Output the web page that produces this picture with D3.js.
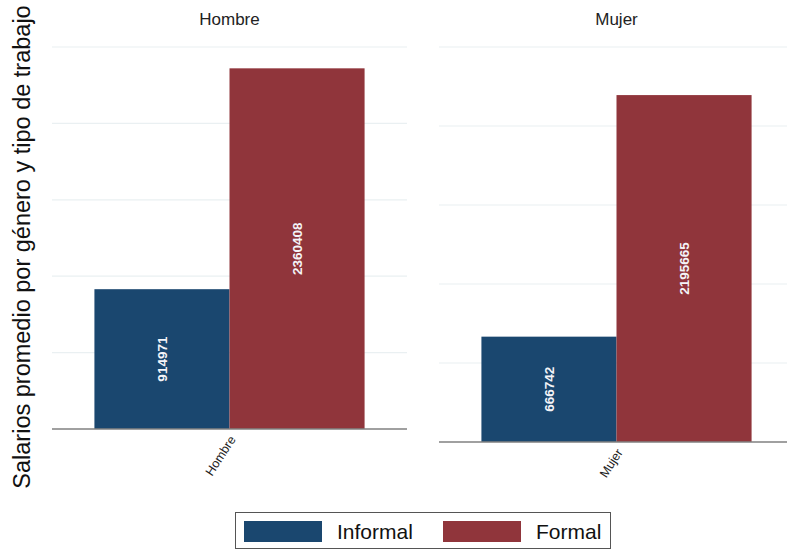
<!DOCTYPE html>
<html>
<head>
<meta charset="utf-8">
<script src="https://cdn.jsdelivr.net/npm/d3@7"></script>
<style>
  body { margin: 0; background: #fff; }
  text { font-family: "Liberation Sans", Arial, sans-serif; }
</style>
</head>
<body>
<svg id="chart" width="787" height="550"></svg>
<script>
// data
const genders = ["Hombre", "Mujer"];
const series = ["Informal", "Formal"];
const informal = [914971, 666742];
const formal = [2360408, 2195665];
const yTicks = [0, 500000, 1000000, 1500000, 2000000, 2500000];

const colors = { Informal: "#1a476f", Formal: "#90353b" };

const svg = d3.select("#chart");

// panel layout (the Mujer panel is taller because its tick label is shorter)
const panels = [
  { x0: 52, x1: 407, top: 47, bottom: 429 },
  { x0: 439, x1: 794, top: 47, bottom: 442 }
];

genders.forEach((g, i) => {
  const p = panels[i];
  const vals = { Informal: informal[i], Formal: formal[i] };

  const y = d3.scaleLinear()
      .domain([0, d3.max(yTicks)])
      .range([p.bottom, p.top]);

  const xOuter = d3.scaleBand()
      .domain([g])
      .range([p.x0, p.x1])
      .paddingInner(0)
      .paddingOuter(0.157);

  const x = d3.scaleBand()
      .domain(series)
      .range([xOuter(g), xOuter(g) + xOuter.bandwidth()]);

  const panel = svg.append("g");

  // gridlines
  panel.selectAll(".grid")
      .data(yTicks.filter(t => t > 0))
      .join("line")
      .attr("x1", p.x0)
      .attr("x2", p.x1)
      .attr("y1", d => y(d))
      .attr("y2", d => y(d))
      .attr("stroke", "#eaf0f2")
      .attr("stroke-width", 1.2);

  // bars
  panel.selectAll(".bar")
      .data(series)
      .join("rect")
      .attr("x", d => x(d))
      .attr("y", d => y(vals[d]))
      .attr("width", x.bandwidth())
      .attr("height", d => y(0) - y(vals[d]))
      .attr("fill", d => colors[d]);

  // value labels
  panel.selectAll(".lbl")
      .data(series)
      .join("text")
      .attr("transform", d => {
        const cx = x(d) + x.bandwidth() / 2;
        const cy = (y(0) + y(vals[d])) / 2;
        return `translate(${cx},${cy}) rotate(-90)`;
      })
      .attr("text-anchor", "middle")
      .attr("dy", "0.35em")
      .attr("fill", "#f4f4f8")
      .attr("font-size", 13.5)
      .attr("font-weight", "bold")
      .text(d => vals[d]);

  // baseline
  panel.append("line")
      .attr("x1", p.x0)
      .attr("x2", p.x1)
      .attr("y1", y(0))
      .attr("y2", y(0))
      .attr("stroke", "#808080")
      .attr("stroke-width", 1.5);

  // x tick label
  const cx = xOuter(g) + xOuter.bandwidth() / 2;
  panel.append("text")
      .attr("transform", `translate(${cx + 3},${y(0) + 8}) rotate(-57)`)
      .attr("text-anchor", "end")
      .attr("dy", "0.35em")
      .attr("fill", "#222")
      .attr("font-size", 12.5)
      .text(g);

  // panel title
  panel.append("text")
      .attr("x", (p.x0 + p.x1) / 2)
      .attr("y", 25)
      .attr("text-anchor", "middle")
      .attr("fill", "#222")
      .attr("font-size", 17)
      .text(g);
});

// y axis title
svg.append("text")
    .attr("transform", "translate(30,247) rotate(-90)")
    .attr("text-anchor", "middle")
    .attr("fill", "#111")
    .attr("font-size", 23.5)
    .text("Salarios promedio por género y tipo de trabajo");

// legend
const legend = svg.append("g");
legend.append("rect")
    .attr("x", 235.5)
    .attr("y", 512.5)
    .attr("width", 375)
    .attr("height", 36)
    .attr("fill", "#fff")
    .attr("stroke", "#555")
    .attr("stroke-width", 1);

const legX = d3.scaleOrdinal().domain(series).range([244, 443]);
const item = legend.selectAll(".item")
    .data(series)
    .join("g")
    .attr("transform", d => `translate(${legX(d)},521)`);
item.append("rect")
    .attr("width", 78)
    .attr("height", 21)
    .attr("fill", d => colors[d]);
item.append("text")
    .attr("x", 93)
    .attr("y", 11)
    .attr("dy", "0.35em")
    .attr("fill", "#111")
    .attr("font-size", 21)
    .text(d => d);
</script>
</body>
</html>
